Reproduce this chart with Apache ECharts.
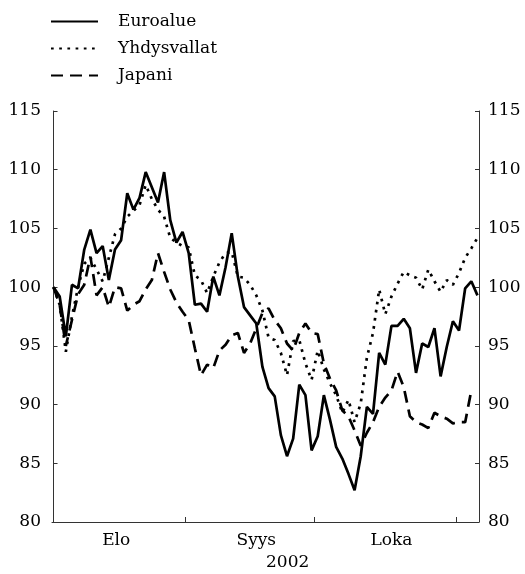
<!DOCTYPE html>
<html>
<head>
<meta charset="utf-8">
<script src="https://cdn.jsdelivr.net/npm/echarts@6/dist/echarts.min.js"></script>
<style>
html,body{margin:0;padding:0;background:#fff;}
#chart{width:525px;height:574px;}
</style>
</head>
<body>
<div id="chart"></div>
<script>
// Business days from 1 Aug 2002 (index 0) onward
const seriesNames = ['Euroalue', 'Yhdysvallat', 'Japani'];
const euroalue = [100,99.2,95.8,100.2,99.9,103.2,104.9,102.9,103.5,100.6,103.2,104,108,106.6,107.6,109.8,108.5,107.2,109.8,105.7,103.8,104.7,102.9,98.5,98.6,97.9,100.9,99.3,101.7,104.6,100.9,98.3,97.6,96.9,93.2,91.4,90.7,87.4,85.6,87.1,91.7,90.8,86.1,87.3,90.8,88.7,86.4,85.4,84.1,82.7,85.6,89.8,89.2,94.4,93.4,96.7,96.7,97.3,96.5,92.7,95.2,94.9,96.5,92.4,94.9,97.1,96.3,99.9,100.5,99.3];
const yhdysvallat = [100,98.5,94.5,97.5,100,102,102.5,101.5,100.5,102.5,104.5,105,106,106.5,107,108.7,107.5,106.6,106,104.2,103.8,103.5,103.4,101,100.6,99.5,100.9,102.1,102.9,103,100.9,100.8,100.2,99.3,98,95.7,95.5,94.4,92.5,95.4,95.5,93.5,92.1,94.6,93,91.8,90.8,89.3,90.4,88.5,90.1,94,96.1,99.8,97.7,99.2,100.3,101.3,101,100.8,99.8,101.5,100.5,99.6,100.6,100.2,101.2,102.5,103.3,104.2];
const japani = [100,98.5,95,97.2,99.4,100.2,102.6,99.3,100,98.3,100,99.9,98,98.5,98.8,99.8,100.6,102.9,101.3,99.8,98.7,97.9,97.2,94.8,92.5,93.4,93.1,94.6,95.1,95.9,96.1,94.4,95.2,96.5,97.8,98.2,97.2,96.5,95.2,94.6,96.1,96.9,96.1,96,93.5,92.2,91.2,89.5,89,87.8,86.5,87.6,88.5,89.8,90.6,91.2,92.8,91.5,89,88.5,88.3,88,89.3,89,88.8,88.4,88.5,88.5,91.2];
// Month boundaries and month label positions (in business-day index)
const monthTicks = [21.5, 42.5, 65.5];
const monthLabelPos = [10.2, 33, 55];
const monthLabels = ['Elo', 'Syys', 'Loka'];
const yearLabel = '2002';

const FONT = "DejaVu Serif";
const FS = 17;
const toPairs = arr => arr.map((v, i) => [i, v]);

const chart = echarts.init(document.getElementById('chart'), null, {renderer: 'canvas'});

const axisY = (pos) => ({
  type: 'value', position: pos, min: 80, max: 115, interval: 5,
  axisLine: {show: true, lineStyle: {color: '#333', width: 1}},
  axisTick: {show: true, inside: true, length: 4, lineStyle: {color: '#333'}},
  splitLine: {show: false},
  axisLabel: {fontFamily: FONT, fontSize: FS, color: '#000', margin: pos === 'left' ? 11 : 9}
});

chart.setOption({
  animation: false,
  backgroundColor: '#fff',
  grid: {left: 52, right: 46, top: 111, bottom: 52},
  legend: {
    orient: 'vertical', left: 45, top: 8,
    itemWidth: 47, itemHeight: 14, itemGap: 10,
    itemStyle: {opacity: 0},
    textStyle: {fontFamily: FONT, fontSize: FS, color: '#000', padding: [0, 0, 0, 15]},
    data: seriesNames
  },
  xAxis: {
    type: 'value', min: -0.25, max: 69.25,
    axisLine: {show: true, lineStyle: {color: '#333', width: 1}},
    axisTick: {show: true, inside: true, length: 5, customValues: monthTicks, lineStyle: {color: '#333'}},
    splitLine: {show: false},
    axisLabel: {
      customValues: monthLabelPos, fontFamily: FONT, fontSize: FS, color: '#000', margin: 10,
      formatter: v => { const k = monthLabelPos.indexOf(v); return k >= 0 ? monthLabels[k] : ''; }
    }
  },
  yAxis: [axisY('left'), axisY('right')],
  graphic: [{
    type: 'text', left: 266, top: 554,
    style: {text: yearLabel, fontFamily: FONT, fontSize: FS, fill: '#000', textAlign: 'center'}
  }],
  series: [
    {name: seriesNames[0], type: 'line', data: toPairs(euroalue), symbol: 'none',
     lineStyle: {color: '#000', width: 2.7, type: 'solid'}, itemStyle: {color: '#000'}},
    {name: seriesNames[1], type: 'line', data: toPairs(yhdysvallat), symbol: 'none',
     lineStyle: {color: '#000', width: 2.7, type: [2.7, 5.5]}, itemStyle: {color: '#000'}},
    {name: seriesNames[2], type: 'line', data: toPairs(japani), symbol: 'none',
     lineStyle: {color: '#000', width: 2.7, type: [12, 7]}, itemStyle: {color: '#000'}}
  ]
});
</script>
</body>
</html>
